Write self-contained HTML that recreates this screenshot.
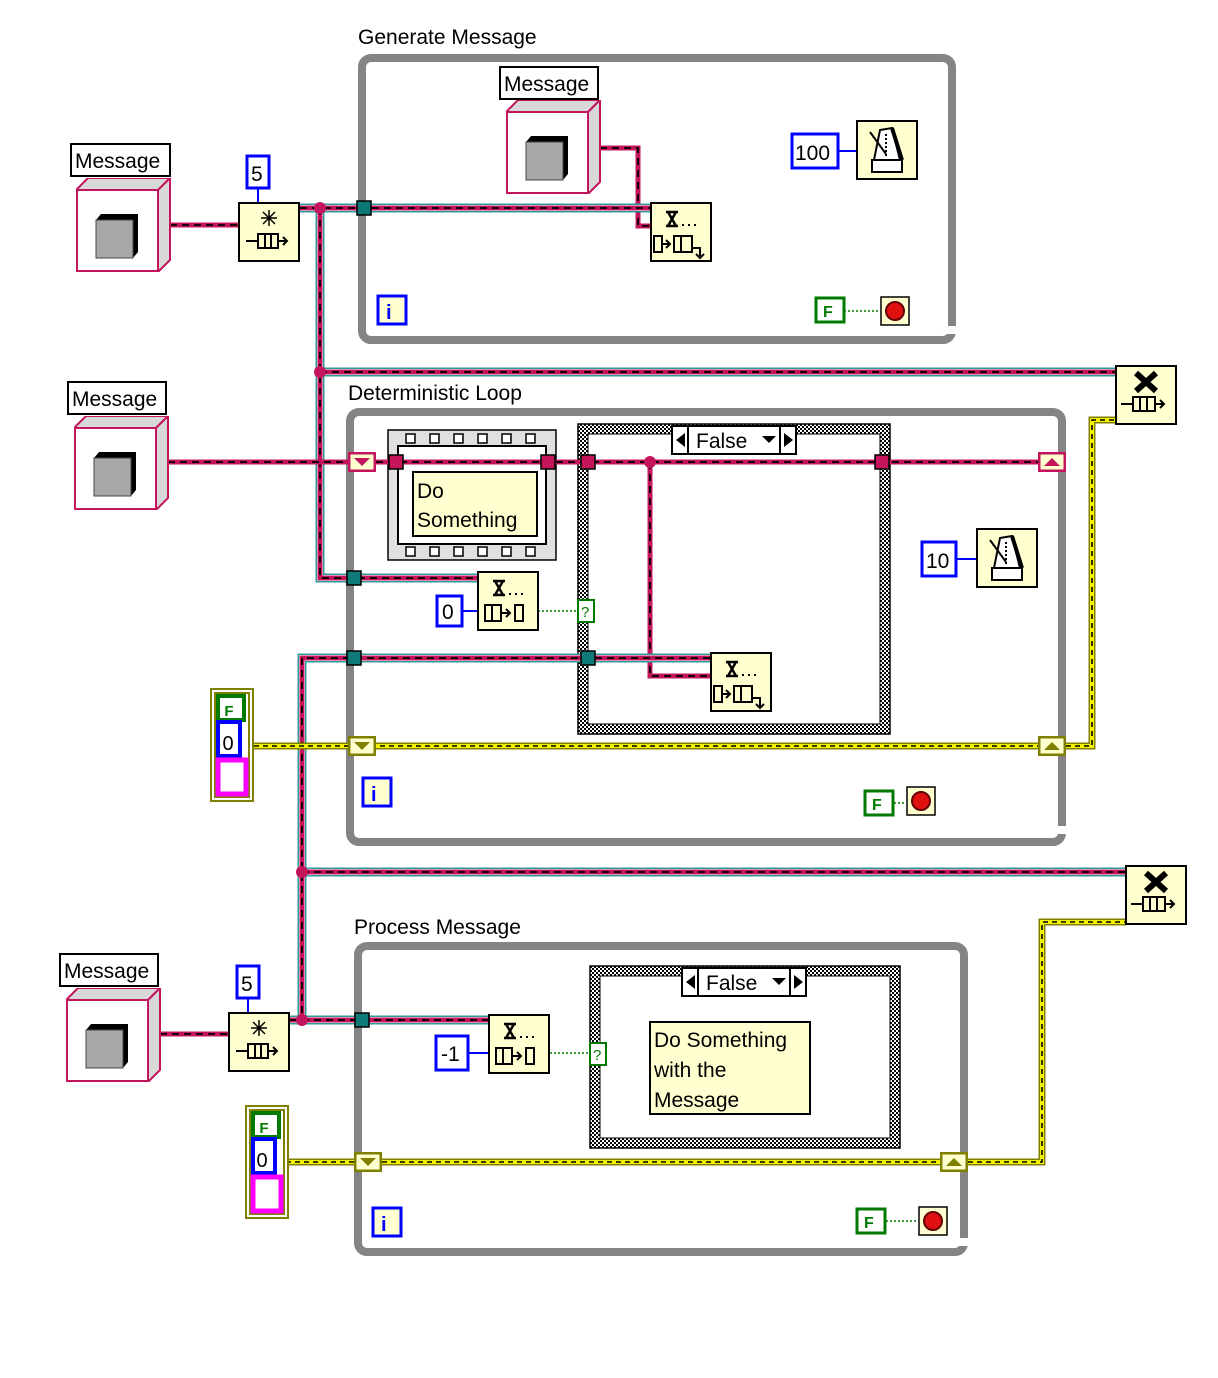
<!DOCTYPE html>
<html><head><meta charset="utf-8"><style>
html,body{margin:0;padding:0;background:#fff}
svg{display:block}
text{font-family:"Liberation Sans","DejaVu Sans",sans-serif}
.qa{stroke:#2e9c9c;stroke-width:9;fill:none}
.qw{stroke:#fff;stroke-width:6;fill:none}
.qb{stroke:#c4145c;stroke-width:5;fill:none}
.qc{stroke:#000;stroke-width:1.8;stroke-dasharray:7 5;fill:none}
.ea{stroke:#808000;stroke-width:7;fill:none}
.eb{stroke:#f4f400;stroke-width:4;fill:none}
.ec{stroke:#000;stroke-width:1.6;stroke-dasharray:5 4;fill:none}
.loop{fill:none;stroke:#848484;stroke-width:8}
.lbl{font-size:21px;fill:#000}
.num{font-size:21px;fill:#000}
</style></head><body>
<svg width="1218" height="1378" viewBox="0 0 1218 1378" xmlns="http://www.w3.org/2000/svg">
<defs>
<pattern id="chk" width="4" height="4" patternUnits="userSpaceOnUse">
<rect width="4" height="4" fill="#fff"/><rect width="2" height="2" fill="#000"/><rect x="2" y="2" width="2" height="2" fill="#000"/>
</pattern>
<symbol id="ctrl" viewBox="0 0 96 94" width="96" height="94">
<polygon points="0,12 12,0 94,0 82,12" fill="#d8d8d8" stroke="#c4145c" stroke-width="2"/>
<polygon points="82,12 94,0 94,82 82,94" fill="#d8d8d8" stroke="#c4145c" stroke-width="2"/>
<rect x="1" y="12" width="81" height="81" fill="#fff" stroke="#c4145c" stroke-width="2"/>
<polygon points="20,42 25,36 62,36 62,74 57,80 20,80" fill="#000"/>
<rect x="20" y="42" width="37" height="38" fill="#a8a8a8" stroke="#444" stroke-width="1"/>
</symbol>
<symbol id="wait" viewBox="0 0 62 60" width="62" height="60">
<rect x="1" y="1" width="60" height="58" fill="#ffffd0" stroke="#000" stroke-width="2"/>
<polygon points="24,10 36,8 44,40 18,40" fill="#fff" stroke="#000" stroke-width="2"/>
<path d="M36,8 L46,40" stroke="#000" stroke-width="4"/>
<rect x="16" y="40" width="30" height="12" fill="#fff" stroke="#000" stroke-width="2"/>
<path d="M14,12 L30,34" stroke="#000" stroke-width="2"/>
<path d="M30,14 v22" stroke="#000" stroke-width="2" stroke-dasharray="2 2"/>
</symbol>
<symbol id="stop" viewBox="0 0 30 30" width="30" height="30">
<rect x="1" y="1" width="28" height="28" fill="#ffffd0" stroke="#000" stroke-width="1.5"/>
<circle cx="15" cy="15" r="9" fill="#e01010" stroke="#600" stroke-width="2"/>
</symbol>
<symbol id="obt" viewBox="0 0 62 60" width="62" height="60">
<rect x="1" y="1" width="60" height="58" fill="#ffffd0" stroke="#000" stroke-width="2"/>
<path d="M31,8 v16 M23,16 h16 M25,10 l12,12 M37,10 l-12,12" stroke="#000" stroke-width="1.5"/>
<rect x="20" y="32" width="20" height="14" fill="none" stroke="#000" stroke-width="2"/>
<path d="M27,32 v14 M33,32 v14 M8,39 h12 M40,39 h8 M45,35 l4,4 -4,4" stroke="#000" stroke-width="2" fill="none"/>
</symbol>
<symbol id="rel" viewBox="0 0 62 60" width="62" height="60">
<rect x="1" y="1" width="60" height="58" fill="#ffffd0" stroke="#000" stroke-width="2"/>
<path d="M21,8 L41,26 M41,8 L21,26" stroke="#000" stroke-width="6"/>
<rect x="18" y="32" width="22" height="14" fill="none" stroke="#000" stroke-width="2"/>
<path d="M25,32 v14 M32,32 v14 M6,39 h12 M40,39 h8 M45,35 l4,4 -4,4" stroke="#000" stroke-width="2" fill="none"/>
</symbol>
<symbol id="enq" viewBox="0 0 62 60" width="62" height="60">
<rect x="1" y="1" width="60" height="58" fill="#ffffd0" stroke="#000" stroke-width="2"/>
<path d="M16,10 h12 M16,24 h12 M18,10 L26,24 M26,10 L18,24" stroke="#000" stroke-width="2.5" fill="none"/>
<rect x="32" y="22" width="2" height="2"/><rect x="38" y="22" width="2" height="2"/><rect x="44" y="22" width="2" height="2"/>
<rect x="4" y="34" width="8" height="16" fill="none" stroke="#000" stroke-width="2"/>
<path d="M13,42 h6 M16,38 l4,4 -4,4" stroke="#000" stroke-width="2" fill="none"/>
<rect x="24" y="34" width="18" height="16" fill="none" stroke="#000" stroke-width="2"/>
<path d="M31,34 v16 M42,46 h8 v8 M46,52 l4,4 4,-4" stroke="#000" stroke-width="2" fill="none"/>
</symbol>
<symbol id="deq" viewBox="0 0 62 60" width="62" height="60">
<rect x="1" y="1" width="60" height="58" fill="#ffffd0" stroke="#000" stroke-width="2"/>
<path d="M16,10 h12 M16,24 h12 M18,10 L26,24 M26,10 L18,24" stroke="#000" stroke-width="2.5" fill="none"/>
<rect x="32" y="22" width="2" height="2"/><rect x="38" y="22" width="2" height="2"/><rect x="44" y="22" width="2" height="2"/>
<rect x="8" y="34" width="16" height="16" fill="none" stroke="#000" stroke-width="2"/>
<path d="M15,34 v16 M24,42 h8 M29,38 l4,4 -4,4" stroke="#000" stroke-width="2" fill="none"/>
<rect x="38" y="34" width="8" height="16" fill="none" stroke="#000" stroke-width="2"/>
</symbol>
<symbol id="srL" viewBox="0 0 28 20" width="28" height="20">
<rect x="1" y="1" width="26" height="18" fill="#ffffd0" stroke="currentColor" stroke-width="3"/>
<polygon points="6,6 22,6 14,14" fill="currentColor"/>
</symbol>
<symbol id="srR" viewBox="0 0 28 20" width="28" height="20">
<rect x="1" y="1" width="26" height="18" fill="#ffffd0" stroke="currentColor" stroke-width="3"/>
<polygon points="6,14 22,14 14,6" fill="currentColor"/>
</symbol>
<symbol id="tun" viewBox="0 0 16 16" width="16" height="16">
<rect x="1" y="1" width="14" height="14" fill="#0e7a78" stroke="#000" stroke-width="1.5"/>
</symbol>
<symbol id="mtun" viewBox="0 0 16 16" width="16" height="16">
<rect x="1" y="1" width="14" height="14" fill="#c4145c" stroke="#000" stroke-width="1.5"/>
</symbol>
<symbol id="err" viewBox="0 0 44 114" width="44" height="114">
<rect x="1" y="1" width="42" height="112" fill="#fff" stroke="#808000" stroke-width="2"/>
<rect x="5" y="5" width="34" height="104" fill="#fff" stroke="#808000" stroke-width="2"/>
<rect x="8" y="8" width="26" height="24" fill="#fff" stroke="#007a00" stroke-width="4"/>
<rect x="8" y="34" width="22" height="34" fill="#fff" stroke="#0000ff" stroke-width="4"/>
<rect x="8" y="72" width="28" height="34" fill="#fff" stroke="#ff00ff" stroke-width="5"/>
</symbol>
</defs>

<rect class="loop" x="362" y="58" width="590" height="282" rx="9"/>
<rect x="944" y="326" width="14" height="8" fill="#fff"/>
<rect class="loop" x="350" y="412" width="712" height="430" rx="9"/>
<rect x="1054" y="826" width="14" height="8" fill="#fff"/>
<rect class="loop" x="358" y="946" width="606" height="306" rx="9"/>
<rect x="956" y="1238" width="14" height="8" fill="#fff"/>

<text class="lbl" x="358" y="44">Generate Message</text>
<text class="lbl" x="348" y="400">Deterministic Loop</text>
<text class="lbl" x="354" y="934">Process Message</text>

<rect x="578" y="424" width="312" height="310" fill="url(#chk)" stroke="#000" stroke-width="1.5"/>
<rect x="588" y="434" width="292" height="290" fill="#fff" stroke="#000" stroke-width="1"/>
<rect x="590" y="966" width="310" height="182" fill="url(#chk)" stroke="#000" stroke-width="1.5"/>
<rect x="600" y="976" width="290" height="162" fill="#fff" stroke="#000" stroke-width="1"/>

<rect x="388" y="430" width="168" height="130" fill="#e0e0e0" stroke="#000" stroke-width="1.5"/>
<rect x="398" y="446" width="148" height="98" fill="#fff" stroke="#000" stroke-width="2"/>
<g fill="#fff" stroke="#000" stroke-width="1.5">
<rect x="406" y="434" width="9" height="9"/><rect x="430" y="434" width="9" height="9"/><rect x="454" y="434" width="9" height="9"/><rect x="478" y="434" width="9" height="9"/><rect x="502" y="434" width="9" height="9"/><rect x="526" y="434" width="9" height="9"/>
<rect x="406" y="547" width="9" height="9"/><rect x="430" y="547" width="9" height="9"/><rect x="454" y="547" width="9" height="9"/><rect x="478" y="547" width="9" height="9"/><rect x="502" y="547" width="9" height="9"/><rect x="526" y="547" width="9" height="9"/>
</g>
<rect x="413" y="472" width="124" height="64" fill="#ffffd0" stroke="#000" stroke-width="2"/>
<text class="lbl" x="417" y="498">Do</text>
<text class="lbl" x="417" y="527">Something</text>

<g><path class="qb" d="M170,225 H238"/><path class="qc" d="M170,225 H238"/></g>
<g><path class="qb" d="M600,148 H638 V226 H650"/><path class="qc" d="M600,148 H638 V226 H650"/></g>
<g>
<path class="qa" d="M300,208 H650 M320,208 V578 H478 M320,372 H1116"/>
<path class="qw" d="M300,208 H650 M320,208 V578 H478 M320,372 H1116"/>
<path class="qb" d="M300,208 H650 M320,208 V578 H478 M320,372 H1116"/>
<path class="qc" d="M300,208 H650 M320,208 V578 H478 M320,372 H1116"/>
</g>
<g><path class="qb" d="M168,462 H348 M376,462 H1040 M650,462 V676 H710"/><path class="qc" d="M168,462 H348 M376,462 H1040 M650,462 V676 H710"/></g>
<g><path class="ea" d="M254,746 H1040 M1066,746 H1092 V420 H1116"/><path class="eb" d="M254,746 H1040 M1066,746 H1092 V420 H1116"/><path class="ec" d="M254,746 H1040 M1066,746 H1092 V420 H1116"/></g>
<g>
<path class="qa" d="M710,658 H302 V1020 M302,872 H1126 M290,1020 H488"/>
<path class="qw" d="M710,658 H302 V1020 M302,872 H1126 M290,1020 H488"/>
<path class="qb" d="M710,658 H302 V1020 M302,872 H1126 M290,1020 H488"/>
<path class="qc" d="M710,658 H302 V1020 M302,872 H1126 M290,1020 H488"/>
</g>
<g><path class="ea" d="M290,746 H316"/><path class="eb" d="M290,746 H316"/><path class="ec" d="M290,746 H316"/></g>
<g><path class="qb" d="M160,1034 H228"/><path class="qc" d="M160,1034 H228"/></g>
<g><path class="ea" d="M286,1162 H354 M382,1162 H940 M968,1162 H1042 V922 H1126"/><path class="eb" d="M286,1162 H354 M382,1162 H940 M968,1162 H1042 V922 H1126"/><path class="ec" d="M286,1162 H354 M382,1162 H940 M968,1162 H1042 V922 H1126"/></g>

<path d="M258,188 V202 M248,998 V1012 M838,151 H856 M956,559 H976 M462,611 H478 M468,1053 H488" stroke="#0000ff" stroke-width="2"/>
<path d="M844,311 H880 M894,803 H906 M886,1221 H918 M538,611 H578 M550,1053 H590" stroke="#007a00" stroke-width="1.5" stroke-dasharray="2 2"/>

<circle cx="320" cy="208" r="6" fill="#c4145c"/>
<circle cx="320" cy="372" r="6" fill="#c4145c"/>
<circle cx="650" cy="462" r="6" fill="#c4145c"/>
<circle cx="302" cy="872" r="6" fill="#c4145c"/>
<circle cx="302" cy="1020" r="6" fill="#c4145c"/>

<use href="#tun" x="356" y="200"/>
<use href="#tun" x="346" y="570"/>
<use href="#tun" x="346" y="650"/>
<use href="#tun" x="580" y="650"/>
<use href="#tun" x="354" y="1012"/>
<use href="#mtun" x="388" y="454"/>
<use href="#mtun" x="540" y="454"/>
<use href="#mtun" x="580" y="454"/>
<use href="#mtun" x="874" y="454"/>

<use href="#srL" x="348" y="452" style="color:#c4145c"/>
<use href="#srR" x="1038" y="452" style="color:#c4145c"/>
<use href="#srL" x="348" y="736" style="color:#808000"/>
<use href="#srR" x="1038" y="736" style="color:#808000"/>
<use href="#srL" x="354" y="1152" style="color:#808000"/>
<use href="#srR" x="940" y="1152" style="color:#808000"/>

<rect x="71" y="144" width="99" height="32" fill="#fff" stroke="#000" stroke-width="2"/>
<text class="lbl" x="75" y="168">Message</text>
<use href="#ctrl" x="76" y="178"/>
<rect x="500" y="67" width="98" height="32" fill="#fff" stroke="#000" stroke-width="2"/>
<text class="lbl" x="504" y="91">Message</text>
<use href="#ctrl" x="506" y="100"/>
<rect x="68" y="382" width="98" height="32" fill="#fff" stroke="#000" stroke-width="2"/>
<text class="lbl" x="72" y="406">Message</text>
<use href="#ctrl" x="74" y="416"/>
<rect x="60" y="954" width="98" height="32" fill="#fff" stroke="#000" stroke-width="2"/>
<text class="lbl" x="64" y="978">Message</text>
<use href="#ctrl" x="66" y="988"/>

<use href="#obt" x="238" y="202"/>
<use href="#obt" x="228" y="1012"/>
<use href="#enq" x="650" y="202"/>
<use href="#enq" x="710" y="652"/>
<use href="#deq" x="477" y="571"/>
<use href="#deq" x="488" y="1014"/>
<use href="#rel" x="1115" y="365"/>
<use href="#rel" x="1125" y="865"/>
<use href="#wait" x="856" y="120"/>
<use href="#wait" x="976" y="528"/>

<rect x="247" y="156" width="22" height="32" fill="#fff" stroke="#0000ff" stroke-width="3"/><text class="num" x="251" y="181">5</text>
<rect x="237" y="966" width="22" height="32" fill="#fff" stroke="#0000ff" stroke-width="3"/><text class="num" x="241" y="991">5</text>
<rect x="792" y="134" width="46" height="34" fill="#fff" stroke="#0000ff" stroke-width="3"/><text class="num" x="795" y="160">100</text>
<rect x="922" y="542" width="34" height="34" fill="#fff" stroke="#0000ff" stroke-width="3"/><text class="num" x="926" y="568">10</text>
<rect x="437" y="596" width="25" height="30" fill="#fff" stroke="#0000ff" stroke-width="3"/><text class="num" x="442" y="619">0</text>
<rect x="436" y="1036" width="32" height="34" fill="#fff" stroke="#0000ff" stroke-width="3"/><text class="num" x="441" y="1061">-1</text>

<g fill="#ffffd0" stroke="#0000ff" stroke-width="3">
<rect x="378" y="296" width="28" height="28"/><rect x="363" y="778" width="28" height="28"/><rect x="373" y="1208" width="28" height="28"/>
</g>
<text x="386" y="319" font-size="20" fill="#0000ff" font-weight="bold">i</text>
<text x="371" y="801" font-size="20" fill="#0000ff" font-weight="bold">i</text>
<text x="381" y="1231" font-size="20" fill="#0000ff" font-weight="bold">i</text>

<g fill="#fff" stroke="#007a00" stroke-width="3">
<rect x="816" y="298" width="28" height="24"/><rect x="865" y="791" width="28" height="24"/><rect x="857" y="1209" width="28" height="24"/>
</g>
<text x="823" y="317" font-size="16" font-weight="bold" fill="#007a00">F</text>
<text x="872" y="810" font-size="16" font-weight="bold" fill="#007a00">F</text>
<text x="864" y="1228" font-size="16" font-weight="bold" fill="#007a00">F</text>
<use href="#stop" x="880" y="296"/>
<use href="#stop" x="906" y="786"/>
<use href="#stop" x="918" y="1206"/>

<rect x="578" y="600" width="16" height="22" fill="#fff" stroke="#007a00" stroke-width="2"/><text x="581" y="617" font-size="15" fill="#007a00">?</text>
<rect x="590" y="1043" width="16" height="22" fill="#fff" stroke="#007a00" stroke-width="2"/><text x="593" y="1060" font-size="15" fill="#007a00">?</text>

<use href="#err" x="210" y="688"/>
<text x="229" y="716" font-size="15" font-weight="bold" fill="#007a00" text-anchor="middle">F</text>
<text x="228" y="750" font-size="20" fill="#000" text-anchor="middle">0</text>
<use href="#err" x="245" y="1105"/>
<text x="264" y="1133" font-size="15" font-weight="bold" fill="#007a00" text-anchor="middle">F</text>
<text x="262" y="1167" font-size="20" fill="#000" text-anchor="middle">0</text>

<g>
<rect x="672" y="426" width="124" height="28" fill="#fff" stroke="#000" stroke-width="2"/>
<path d="M688,426 V454 M780,426 V454" stroke="#000" stroke-width="2"/>
<polygon points="676,440 685,433 685,447" fill="#000"/>
<polygon points="793,440 784,433 784,447" fill="#000"/>
<polygon points="762,436 776,436 769,443" fill="#000"/>
<text class="lbl" x="696" y="448">False</text>
</g>
<g>
<rect x="682" y="968" width="124" height="28" fill="#fff" stroke="#000" stroke-width="2"/>
<path d="M698,968 V996 M790,968 V996" stroke="#000" stroke-width="2"/>
<polygon points="686,982 695,975 695,989" fill="#000"/>
<polygon points="803,982 794,975 794,989" fill="#000"/>
<polygon points="772,978 786,978 779,985" fill="#000"/>
<text class="lbl" x="706" y="990">False</text>
</g>
<rect x="650" y="1022" width="160" height="92" fill="#ffffd0" stroke="#000" stroke-width="2"/>
<text class="lbl" x="654" y="1047">Do Something</text>
<text class="lbl" x="654" y="1077">with the</text>
<text class="lbl" x="654" y="1107">Message</text>
</svg>
</body></html>
